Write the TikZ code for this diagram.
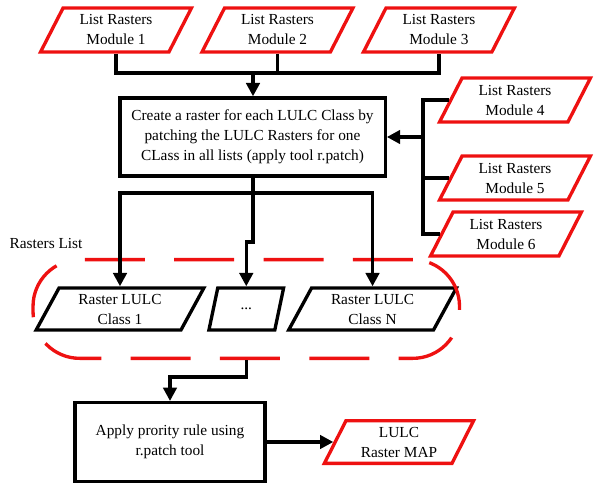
\documentclass[tikz,border=0pt]{standalone}
\usepackage{fontspec}
\setmainfont{Liberation Serif}
\usetikzlibrary{arrows.meta, positioning, shapes.geometric, fit}
\definecolor{ink}{HTML}{000000}
\definecolor{listred}{HTML}{EE1111}

\begin{document}
\begin{tikzpicture}[x=0.75pt, y=-0.75pt,
      every node/.style={font=\fontsize{11.5}{15}\selectfont},
      proc/.style={draw=ink, line width=2.5pt, fill=white, align=center,
                   minimum width=199pt, minimum height=58.5pt, inner sep=2pt},
      data/.style={trapezium, trapezium left angle=64, trapezium right angle=116,
                   trapezium stretches=true, draw=listred, line width=2.5pt,
                   align=center, minimum width=114pt, minimum height=33pt, inner sep=1pt},
      res/.style={data, draw=ink, minimum width=126pt, minimum height=31.5pt},
      ln/.style={ink, line width=2.5pt},
      arr/.style={ln, -{Triangle[length=10pt,width=10pt]}},
      group/.style={draw=listred, line width=2.5pt, dash pattern=on 45pt off 22pt,
                    rounded corners=35pt}]
    \useasboundingbox (0,0) rectangle (601,492);
    % input lists
    \node[data]                    (m1) at (116,30) {List Rasters\\Module 1};
    \node[data, right=22pt of m1]  (m2) {List Rasters\\Module 2};
    \node[data, right=22pt of m2]  (m3) {List Rasters\\Module 3};
    \node[data]                    (m4) at (515,100) {List Rasters\\Module 4};
    \node[data, below=23pt of m4]  (m5) {List Rasters\\Module 5};
    \node[data]                    (m6) at (506,234) {List Rasters\\Module 6};
    \node[proc] (create) at (252.5,137)
      {Create a raster for each LULC Class by\\patching the LULC Rasters for one\\CLass in all lists (apply tool r.patch)};
    % rasters list
    \node[res]                                      (r1) at (120,309) {Raster LULC\\Class 1};
    \node[res, minimum width=56pt, right=13pt of r1] (dots) {...};
    \node[res, right=13pt of dots]                  (rN) {Raster LULC\\Class N};
    \node[group, fit=(r1)(rN), inner xsep=9.5pt, inner ysep=20pt] (lst) {};
    \node[fill=white, inner sep=3pt] (lbl) at (46,243) {Rasters List};
    % output
    \node[proc, minimum width=142.5pt, minimum height=59pt] (apply) at (170,442)
      {Apply prority rule using\\r.patch tool};
    \node[data, minimum width=112pt, minimum height=32pt, right=50pt of apply] (map)
      {LULC\\Raster MAP};
    % connectors
    \coordinate (join) at (253,73);
    \coordinate (bus) at (423,137);
    \coordinate (split) at (253,193);
    \draw[ln] (m1.south -| m1.center) |- (join) -| (m3.south -| m3.center);
    \draw[ln] (m2.south -| m2.center) -- (m2.center |- join);
    \draw[arr] (join) -- (join |- create.north);
    \draw[ln] (m4.west) -- (m4.west -| bus) -- (m6.west -| bus) -- (m6.west);
    \draw[ln] (m5.west) -- (m5.west -| bus);
    \draw[arr] (bus) -- (create.east);
    \draw[ln] (split |- create.south) -- (split);
    \draw[arr] (split) -| (r1.north -| r1.center);
    \draw[arr] (split) -| (rN.north -| rN.center);
    \draw[arr] (split) -- ++(0,49) -| (dots.north -| dots.center);
    \draw[arr] (lst.south -| dots.center) -- ++(0,17) -| (apply.north);
    \draw[arr] (apply.east) -- (map.west);
  \end{tikzpicture}
\end{document}
